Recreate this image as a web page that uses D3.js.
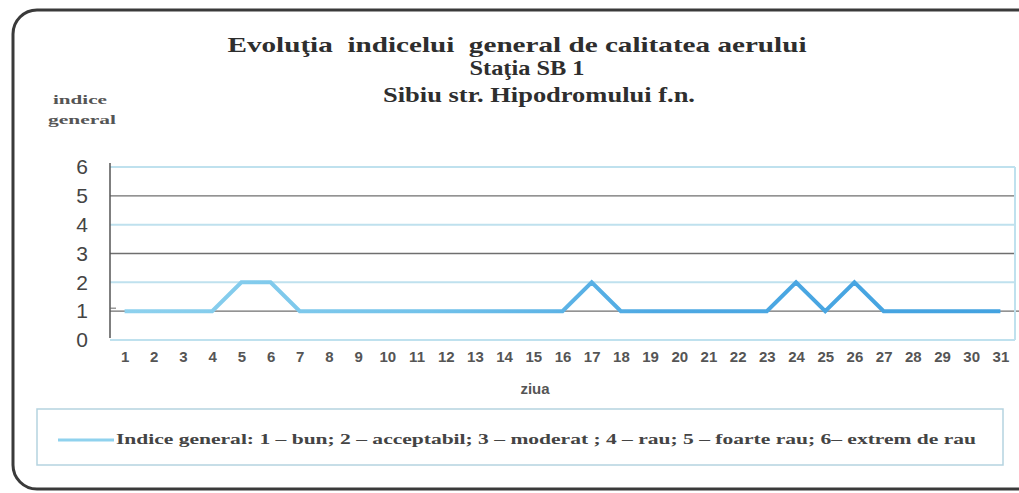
<!DOCTYPE html>
<html>
<head>
<meta charset="utf-8">
<script src="https://cdn.jsdelivr.net/npm/d3@7"></script>
<style>
  body { margin: 0; background: #fff; }
  svg { display: block; }
  text { white-space: pre; }
</style>
</head>
<body>
<div id="chart"></div>
<script>
// data
var days = d3.range(1, 32);
var indexValues = [1, 1, 1, 1, 2, 2, 1, 1, 1, 1, 1, 1, 1, 1, 1, 1, 2, 1, 1, 1, 1, 1, 1, 2, 1, 2, 1, 1, 1, 1, 1];
var yTicks = [0, 1, 2, 3, 4, 5, 6];
var titleLines = ["Evoluţia  indicelui  general de calitatea aerului", "Staţia SB 1", "Sibiu str. Hipodromului f.n."];
var legendText = "Indice general: 1 \u2013 bun; 2 \u2013 acceptabil; 3 \u2013 moderat ; 4 \u2013 rau; 5 \u2013 foarte rau; 6\u2013 extrem de rau";

var width = 1019, height = 493;
var plot = {left: 110, right: 1015, top: 167, bottom: 340};

var svg = d3.select("#chart").append("svg")
    .attr("width", width)
    .attr("height", height);

// outer rounded frame (runs off the right side)
svg.append("rect")
    .attr("x", 13).attr("y", 10)
    .attr("width", 1040).attr("height", 479)
    .attr("rx", 24).attr("ry", 24)
    .attr("fill", "none")
    .attr("stroke", "#3a3a3a")
    .attr("stroke-width", 3);

// title
var titleY = [52, 75, 102];
var titleX = [517, 527, 539];
var titleLen = [579, 115, 312];
svg.selectAll(".title")
  .data(titleLines).enter().append("text")
    .attr("class", "title")
    .attr("x", function(d, i) { return titleX[i]; })
    .attr("y", function(d, i) { return titleY[i]; })
    .attr("text-anchor", "middle")
    .attr("textLength", function(d, i) { return titleLen[i]; })
    .attr("lengthAdjust", "spacingAndGlyphs")
    .style("font-family", "'Liberation Serif', serif")
    .style("font-weight", "bold")
    .style("font-size", "21px")
    .style("fill", "#2e2e2e")
    .text(function(d) { return d; });

// y axis title
svg.append("text")
    .attr("x", 80).attr("y", 104)
    .attr("text-anchor", "middle")
    .attr("textLength", 54).attr("lengthAdjust", "spacingAndGlyphs")
    .style("font-family", "'Liberation Serif', serif")
    .style("font-weight", "bold")
    .style("font-size", "13px")
    .style("fill", "#555")
    .text("indice");
svg.append("text")
    .attr("x", 82).attr("y", 124)
    .attr("text-anchor", "middle")
    .attr("textLength", 68).attr("lengthAdjust", "spacingAndGlyphs")
    .style("font-family", "'Liberation Serif', serif")
    .style("font-weight", "bold")
    .style("font-size", "13px")
    .style("fill", "#555")
    .text("general");

// scales
var x = d3.scalePoint()
    .domain(days)
    .range([plot.left, plot.right])
    .padding(0.5);

var y = d3.scaleLinear()
    .domain([0, 6])
    .range([plot.bottom, plot.top]);

// gridlines (alternating colours as in the scan)
svg.append("g").selectAll("line")
  .data(yTicks).enter().append("line")
    .attr("x1", plot.left)
    .attr("x2", function(d) { return d == 1 ? plot.right + 6 : plot.right; })
    .attr("y1", function(d) { return y(d); })
    .attr("y2", function(d) { return y(d); })
    .attr("stroke", function(d) { return d % 2 == 1 ? "#6f6f6f" : "#bfe1ee"; })
    .attr("stroke-width", function(d) { return d % 2 == 1 ? 1.3 : 2; });

// right border of plot area
svg.append("line")
    .attr("x1", plot.right).attr("x2", plot.right)
    .attr("y1", plot.top).attr("y2", plot.bottom)
    .attr("stroke", "#bfe1ee")
    .attr("stroke-width", 2);

// y axis
var yAxis = svg.append("g")
    .attr("transform", "translate(" + plot.left + ",0)")
    .call(d3.axisLeft(y).tickValues(yTicks).tickSize(0).tickPadding(22).tickFormat(d3.format("d")));
yAxis.select(".domain").remove();
yAxis.selectAll("text")
    .style("font-family", "'Liberation Sans', Arial, sans-serif")
    .style("font-size", "21px")
    .style("fill", "#444");
svg.append("line")
    .attr("x1", plot.left).attr("x2", plot.left)
    .attr("y1", plot.top - 4).attr("y2", plot.bottom - 2)
    .attr("stroke", "#555")
    .attr("stroke-width", 1.5);
svg.append("line")
    .attr("x1", plot.left).attr("x2", plot.left + 6)
    .attr("y1", y(1) - 3).attr("y2", y(1) - 3)
    .attr("stroke", "#666");

// x axis labels
var xAxis = svg.append("g")
    .attr("transform", "translate(0," + plot.bottom + ")")
    .call(d3.axisBottom(x).tickSize(0).tickPadding(11));
xAxis.select(".domain").remove();
xAxis.selectAll("text")
    .style("font-family", "'Liberation Sans', Arial, sans-serif")
    .style("font-weight", "bold")
    .style("font-size", "15px")
    .style("fill", "#555");

svg.append("text")
    .attr("x", 535).attr("y", 394)
    .attr("text-anchor", "middle")
    .style("font-family", "'Liberation Sans', Arial, sans-serif")
    .style("font-weight", "bold")
    .style("font-size", "15px")
    .style("fill", "#555")
    .text("ziua");

// line, light blue fading to stronger blue like the scan
var grad = svg.append("defs").append("linearGradient")
    .attr("id", "lineGrad")
    .attr("gradientUnits", "userSpaceOnUse")
    .attr("x1", plot.left).attr("x2", plot.right)
    .attr("y1", 0).attr("y2", 0);
grad.append("stop").attr("offset", "0").attr("stop-color", "#8fd2ee");
grad.append("stop").attr("offset", "0.35").attr("stop-color", "#72c2ea");
grad.append("stop").attr("offset", "0.6").attr("stop-color", "#4ea9e3");
grad.append("stop").attr("offset", "1").attr("stop-color", "#42a2e0");

var line = d3.line()
    .x(function(d, i) { return x(days[i]); })
    .y(function(d) { return y(d); });

svg.append("path")
    .datum(indexValues)
    .attr("d", line)
    .attr("fill", "none")
    .attr("stroke", "url(#lineGrad)")
    .attr("stroke-width", 4)
    .attr("stroke-linejoin", "miter");

// legend
svg.append("rect")
    .attr("x", 37).attr("y", 409)
    .attr("width", 966).attr("height", 56)
    .attr("fill", "none")
    .attr("stroke", "#b5d3e0")
    .attr("stroke-width", 1.5);
svg.append("line")
    .attr("x1", 58).attr("x2", 114)
    .attr("y1", 440).attr("y2", 440)
    .attr("stroke", "#8fd2ee")
    .attr("stroke-width", 3);
svg.append("text")
    .attr("x", 116).attr("y", 444)
    .attr("textLength", 860).attr("lengthAdjust", "spacingAndGlyphs")
    .style("font-family", "'Liberation Serif', serif")
    .style("font-weight", "bold")
    .style("font-size", "14px")
    .style("fill", "#444")
    .text(legendText);
</script>
</body>
</html>
